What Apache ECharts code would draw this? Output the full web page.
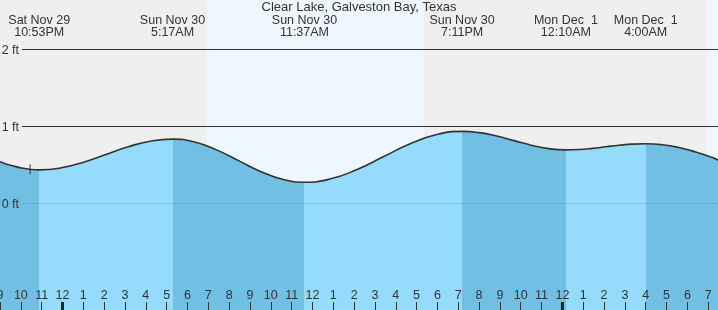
<!DOCTYPE html>
<html>
<head>
<meta charset="utf-8">
<script src="https://cdn.jsdelivr.net/npm/echarts@6/dist/echarts.min.js"></script>
<style>html,body{margin:0;padding:0;background:#efefef}#c{width:718px;height:310px}</style>
</head>
<body>
<div id="c"></div>
<script>
// Hours relative to midnight Sun Nov 30 (local time)
const tideTimes = [-3.5,-3,-2.5,-2,-1.5,-1.117,-0.05,1.017,2.083,3.15,4.217,5.283,6.339,7.394,8.45,9.506,10.561,11.617,12.878,14.139,15.4,16.661,17.922,19.183,20.014,20.844,21.675,22.506,23.336,24.167,24.806,25.444,26.083,26.722,27.361,28,28.8,29.6,30.4,31.2,31.47,32];
const tideLevels = [0.585,0.536,0.491,0.456,0.435,0.43,0.457,0.53,0.63,0.73,0.803,0.83,0.7925,0.69,0.55,0.41,0.3075,0.27,0.314,0.435,0.6,0.765,0.886,0.93,0.914,0.87,0.81,0.75,0.706,0.69,0.695,0.71,0.73,0.75,0.765,0.77,0.757,0.72,0.663,0.591,0.558,0.51];

const eventTimes = [-1.117, 5.283, 11.617, 19.183, 24.167, 28];
const eventTypes = ['low','high','low','high','low','high'];
const eventDays  = ['Sat Nov 29','Sun Nov 30','Sun Nov 30','Sun Nov 30','Mon Dec  1','Mon Dec  1'];
const eventClock = ['10:53PM','5:17AM','11:37AM','7:11PM','12:10AM','4:00AM'];

const dayStarts = [6.93, 30.95];
const dayEnds   = [17.35, 31.47];
const midnights = [0, 24];
const nowTime = -1.556;
const nowLevel = 0.437;
const levelTicks = [2, 1, 0];

const xMin = -3, xMax = 31.47;
const yMin = -1.3896, yMax = 2.6364;

const LIGHT = '#94dbfc', DARK = '#72bfe4';
const FONT = '"Liberation Sans", Arial, sans-serif';

const tideData = tideTimes.map((t, i) => [t, tideLevels[i]]);

const pieces = [{lt: eventTimes[0], color: eventTypes[0] === 'low' ? DARK : LIGHT}];
for (let i = 0; i < eventTimes.length; i++) {
  const p = {gte: eventTimes[i], color: eventTypes[i] === 'low' ? LIGHT : DARK};
  if (i < eventTimes.length - 1) p.lt = eventTimes[i + 1];
  pieces.push(p);
}

function hourLabel(v) {
  let h = ((Math.round(v) % 24) + 24) % 24;
  h = h % 12;
  return h === 0 ? '12' : String(h);
}

const chart = echarts.init(document.getElementById('c'), null, {renderer: 'canvas'});
chart.setOption({
  animation: false,
  backgroundColor: '#efefef',
  title: {
    text: 'Clear Lake, Galveston Bay, Texas',
    left: 'center', top: 1, padding: 0,
    textStyle: {fontSize: 13, fontWeight: 'normal', color: '#333', fontFamily: FONT}
  },
  grid: [
    {left: 0, right: 0, top: 0, bottom: 0, containLabel: false, outerBoundsMode: 'none'},
    {left: 22, right: 0, top: 0, bottom: 0, containLabel: false, outerBoundsMode: 'none'}
  ],
  xAxis: [
    {
      type: 'value', gridIndex: 0, min: xMin, max: xMax, interval: 1, z: 10,
      axisLine: {show: false, onZero: false},
      axisTick: {show: true, inside: true, length: 8, lineStyle: {color: '#333', width: 1}},
      axisLabel: {show: true, inside: true, margin: 8, showMinLabel: true, showMaxLabel: false,
        hideOverlap: false, formatter: hourLabel, color: '#333', fontSize: 12.5, fontFamily: FONT},
      splitLine: {show: false}
    },
    {type: 'value', gridIndex: 1, min: xMin, max: xMax, show: false, axisLine: {onZero: false}}
  ],
  yAxis: [
    {type: 'value', gridIndex: 0, min: yMin, max: yMax, show: false, splitLine: {show: false}},
    {type: 'value', gridIndex: 1, min: yMin, max: yMax, show: false, splitLine: {show: false}}
  ],
  visualMap: {
    type: 'piecewise', show: false, seriesIndex: 1, dimension: 0, pieces: pieces
  },
  series: [
    {
      type: 'line', xAxisIndex: 0, yAxisIndex: 0, z: 1,
      data: [[xMin, yMin]], showSymbol: false, symbol: 'none', lineStyle: {width: 0},
      silent: true,
      markArea: {
        silent: true,
        itemStyle: {color: '#eef6fe'},
        data: dayStarts.map((s, i) => [{xAxis: s}, {xAxis: dayEnds[i]}])
      }
    },
    {
      type: 'line', xAxisIndex: 0, yAxisIndex: 0, z: 2,
      data: tideData, smooth: true, symbol: 'none', showSymbol: false,
      lineStyle: {width: 0},
      areaStyle: {origin: 'start', opacity: 1},
      silent: true
    },
    {
      type: 'line', xAxisIndex: 0, yAxisIndex: 0, z: 3,
      data: tideData, smooth: true, symbol: 'none', showSymbol: false,
      lineStyle: {color: '#333', width: 1.6},
      silent: true
    },
    {
      type: 'custom', xAxisIndex: 0, yAxisIndex: 0, z: 5, silent: true,
      data: eventTimes.map(t => [t, 0]),
      renderItem: function (params, api) {
        const x = api.coord([api.value(0), 0])[0];
        const i = params.dataIndex;
        return {
          type: 'text', x: x, y: 26.5,
          style: {
            text: eventDays[i] + '\n' + eventClock[i],
            textAlign: 'center', textVerticalAlign: 'middle',
            font: '12.5px ' + FONT, fill: '#333', lineHeight: 12
          }
        };
      }
    },
    {
      type: 'custom', xAxisIndex: 0, yAxisIndex: 0, z: 12, silent: true,
      data: midnights.map(t => [t, yMin]),
      renderItem: function (params, api) {
        const p = api.coord([api.value(0), api.value(1)]);
        return {type: 'rect', shape: {x: p[0] - 1.5, y: p[1] - 8, width: 3, height: 8},
          style: {fill: '#222'}};
      }
    },
    {
      type: 'custom', xAxisIndex: 0, yAxisIndex: 0, z: 6, silent: true,
      data: [[nowTime, nowLevel]],
      renderItem: function (params, api) {
        const p = api.coord([api.value(0), api.value(1)]);
        return {type: 'line', shape: {x1: p[0], y1: p[1] - 5, x2: p[0], y2: p[1] + 5},
          style: {stroke: '#333', lineWidth: 1}};
      }
    },
    {
      type: 'line', xAxisIndex: 1, yAxisIndex: 1, z: 4,
      data: [[xMin, yMin]], symbol: 'none', showSymbol: false, lineStyle: {width: 0},
      silent: true,
      markLine: {
        silent: true, symbol: 'none', animation: false,
        label: {show: true, position: 'start', distance: 3, color: '#333', fontSize: 12.5, fontFamily: FONT,
          verticalAlign: 'middle', offset: [0, 2], formatter: p => p.value + ' ft'},
        data: levelTicks.map(v => ({
          yAxis: v,
          lineStyle: v === 0 ? {color: 'rgba(40,110,170,0.22)', width: 1, type: 'solid'}
                             : {color: '#333', width: 1, type: 'solid'}
        }))
      }
    }
  ]
});
</script>
</body>
</html>
